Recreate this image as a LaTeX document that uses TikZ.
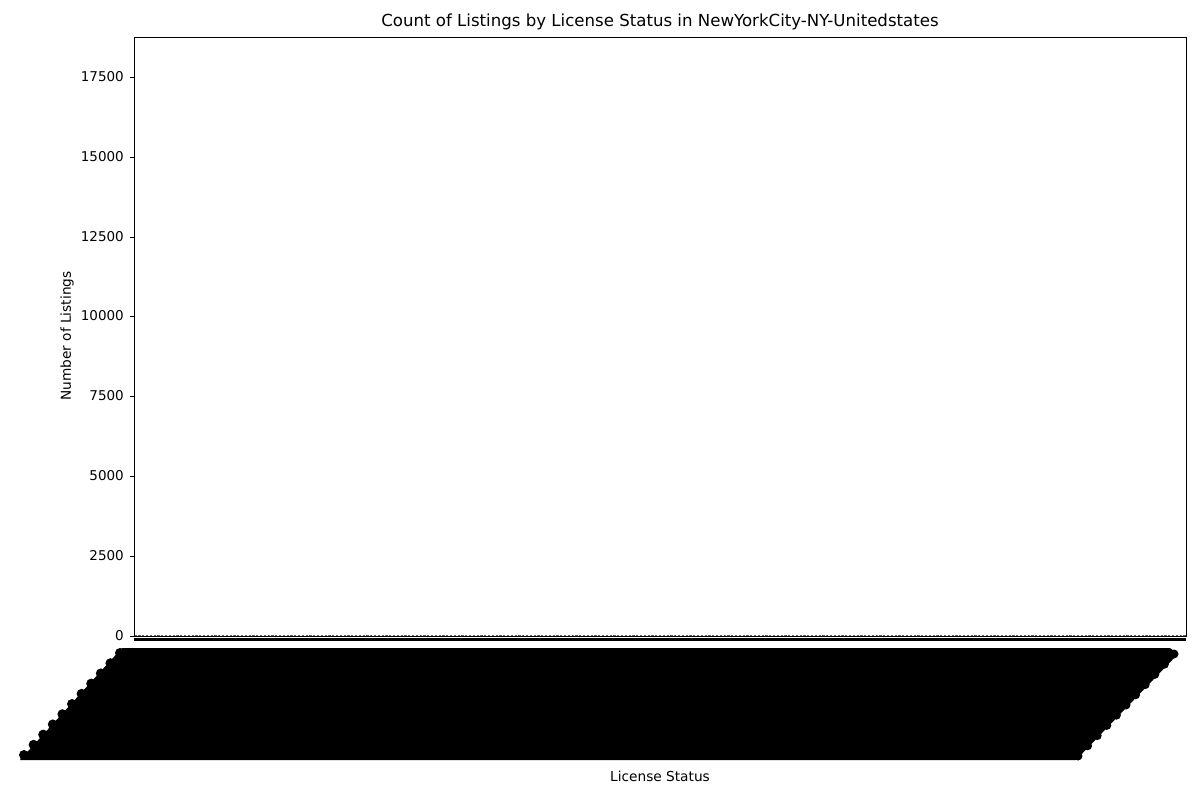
\documentclass[tikz,border=0pt]{standalone}
\usepackage{fontspec}
\setmainfont{DejaVu Sans}
\definecolor{mplblue}{HTML}{1F77B4}
\tikzset{
  ticklab/.style={anchor=east, inner sep=0pt, font=\fontsize{13.5}{13.5}\selectfont},
  axlab/.style={inner sep=0pt, font=\fontsize{13.7}{13.7}\selectfont},
  spine/.style={line width=0.85pt, black},
}
\begin{document}
\begin{tikzpicture}[x=1pt,y=-1pt]
\useasboundingbox[fill=white] (0,0) rectangle (1200,800);
% title
\node[inner sep=0pt, font=\fontsize{16.6}{16.6}\selectfont] (title) at (660,22) {Count of Listings by License Status in NewYorkCity-NY-Unitedstates};
% axes box
\draw[spine] (134,37) rectangle (1186,636.5);
% dense tick marks band
\fill[black] (134,637.8) rectangle (1186,641.2);
% dense bars (tiny) as dashed blue line
\draw[mplblue, line width=1.2pt, dash pattern=on 2.2pt off 1.6pt] (134.5,635.6) -- (1185.5,635.6);
% y ticks and labels
\foreach \v/\yy in {0/636,2500/556,5000/476,7500/396,10000/316,12500/237,15000/157,17500/77}{
  \draw[line width=0.8pt] (129.5,\yy) -- (134,\yy);
  \node[ticklab] at (124,\yy) {\v};
}
% overlapping rotated tick labels (black mass)
\fill[black] (122,648) -- (1170,648) -- (1178,654) -- (1076,760) -- (20,760) -- cycle;
\foreach \i in {0,...,10}{
  \fill[black] ({24+\i*9.6},{755-\i*10.2}) circle (5pt);
  \fill[black] ({1078+\i*9.6},{756-\i*10.2}) circle (4.5pt);
}
% axis labels
\node[axlab] (xl) at (660,776) {License Status};
\node[axlab, rotate=90] (yl) at (67,336) {Number of Listings};
\end{tikzpicture}
\end{document}
